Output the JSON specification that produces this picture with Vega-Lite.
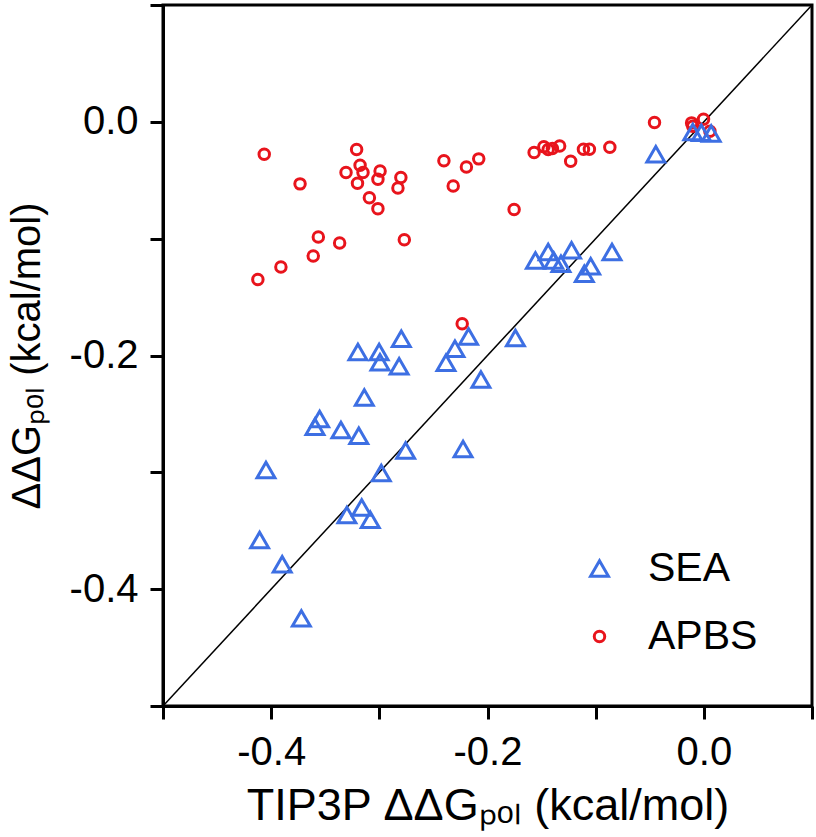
{
  "$schema": "https://vega.github.io/schema/vega-lite/v6.json",
  "autosize": {"type": "none"},
  "padding": {"left": 163, "top": 5, "right": 4, "bottom": 131},
  "width": 649,
  "height": 701,
  "background": "white",
  "config": {
    "font": "Liberation Sans",
    "view": {"stroke": "black", "strokeWidth": 3},
    "axis": {
      "grid": false,
      "domainColor": "black",
      "domainWidth": 3,
      "tickColor": "black",
      "tickWidth": 3,
      "tickSize": 13,
      "labelFont": "Liberation Sans",
      "labelFontSize": 40,
      "labelColor": "black",
      "titleFont": "Liberation Sans",
      "titleFontWeight": "normal",
      "titleColor": "black"
    }
  },
  "datasets": {
    "diag": [
      {"x": -0.5, "y": -0.5},
      {"x": 0.1, "y": 0.1}
    ],
    "pts": [
      {"x": -0.4064, "y": -0.0277, "method": "APBS"},
      {"x": -0.321, "y": -0.0237, "method": "APBS"},
      {"x": -0.3733, "y": -0.0531, "method": "APBS"},
      {"x": -0.3178, "y": -0.0371, "method": "APBS"},
      {"x": -0.3308, "y": -0.0434, "method": "APBS"},
      {"x": -0.3151, "y": -0.0434, "method": "APBS"},
      {"x": -0.3202, "y": -0.0526, "method": "APBS"},
      {"x": -0.2993, "y": -0.042, "method": "APBS"},
      {"x": -0.3013, "y": -0.0491, "method": "APBS"},
      {"x": -0.2801, "y": -0.0477, "method": "APBS"},
      {"x": -0.2828, "y": -0.0566, "method": "APBS"},
      {"x": -0.3092, "y": -0.065, "method": "APBS"},
      {"x": -0.3013, "y": -0.0743, "method": "APBS"},
      {"x": -0.2403, "y": -0.0334, "method": "APBS"},
      {"x": -0.2195, "y": -0.0386, "method": "APBS"},
      {"x": -0.2081, "y": -0.0317, "method": "APBS"},
      {"x": -0.2317, "y": -0.0549, "method": "APBS"},
      {"x": -0.1569, "y": -0.0263, "method": "APBS"},
      {"x": -0.1479, "y": -0.0214, "method": "APBS"},
      {"x": -0.1439, "y": -0.0237, "method": "APBS"},
      {"x": -0.14, "y": -0.0229, "method": "APBS"},
      {"x": -0.1333, "y": -0.0206, "method": "APBS"},
      {"x": -0.1231, "y": -0.0337, "method": "APBS"},
      {"x": -0.1113, "y": -0.0234, "method": "APBS"},
      {"x": -0.1058, "y": -0.0234, "method": "APBS"},
      {"x": -0.0869, "y": -0.0217, "method": "APBS"},
      {"x": -0.0456, "y": -0.0006, "method": "APBS"},
      {"x": -0.0113, "y": -0.0009, "method": "APBS"},
      {"x": -0.0102, "y": -0.0037, "method": "APBS"},
      {"x": -0.0003, "y": 0.0023, "method": "APBS"},
      {"x": 0.0056, "y": -0.008, "method": "APBS"},
      {"x": -0.1754, "y": -0.0751, "method": "APBS"},
      {"x": -0.3564, "y": -0.0986, "method": "APBS"},
      {"x": -0.3367, "y": -0.1037, "method": "APBS"},
      {"x": -0.2769, "y": -0.1009, "method": "APBS"},
      {"x": -0.3611, "y": -0.1149, "method": "APBS"},
      {"x": -0.391, "y": -0.1243, "method": "APBS"},
      {"x": -0.4123, "y": -0.1349, "method": "APBS"},
      {"x": -0.2234, "y": -0.1729, "method": "APBS"},
      {"x": -0.0444, "y": -0.0277, "method": "SEA"},
      {"x": -0.0102, "y": -0.0086, "method": "SEA"},
      {"x": -0.0023, "y": -0.0094, "method": "SEA"},
      {"x": 0.0068, "y": -0.01, "method": "SEA"},
      {"x": -0.1557, "y": -0.1186, "method": "SEA"},
      {"x": -0.1439, "y": -0.1114, "method": "SEA"},
      {"x": -0.1388, "y": -0.1186, "method": "SEA"},
      {"x": -0.1321, "y": -0.1214, "method": "SEA"},
      {"x": -0.1223, "y": -0.11, "method": "SEA"},
      {"x": -0.1105, "y": -0.13, "method": "SEA"},
      {"x": -0.1046, "y": -0.1237, "method": "SEA"},
      {"x": -0.0849, "y": -0.1114, "method": "SEA"},
      {"x": -0.2797, "y": -0.1857, "method": "SEA"},
      {"x": -0.3198, "y": -0.1971, "method": "SEA"},
      {"x": -0.3002, "y": -0.1971, "method": "SEA"},
      {"x": -0.2994, "y": -0.2057, "method": "SEA"},
      {"x": -0.2817, "y": -0.2091, "method": "SEA"},
      {"x": -0.2175, "y": -0.1837, "method": "SEA"},
      {"x": -0.2301, "y": -0.1943, "method": "SEA"},
      {"x": -0.2384, "y": -0.2063, "method": "SEA"},
      {"x": -0.1742, "y": -0.1851, "method": "SEA"},
      {"x": -0.2061, "y": -0.2206, "method": "SEA"},
      {"x": -0.3139, "y": -0.236, "method": "SEA"},
      {"x": -0.3552, "y": -0.2543, "method": "SEA"},
      {"x": -0.3595, "y": -0.2609, "method": "SEA"},
      {"x": -0.3355, "y": -0.2637, "method": "SEA"},
      {"x": -0.319, "y": -0.2686, "method": "SEA"},
      {"x": -0.2757, "y": -0.2814, "method": "SEA"},
      {"x": -0.2226, "y": -0.28, "method": "SEA"},
      {"x": -0.4048, "y": -0.298, "method": "SEA"},
      {"x": -0.2982, "y": -0.3006, "method": "SEA"},
      {"x": -0.3163, "y": -0.33, "method": "SEA"},
      {"x": -0.33, "y": -0.3366, "method": "SEA"},
      {"x": -0.3084, "y": -0.3406, "method": "SEA"},
      {"x": -0.4107, "y": -0.358, "method": "SEA"},
      {"x": -0.3898, "y": -0.3786, "method": "SEA"},
      {"x": -0.3721, "y": -0.425, "method": "SEA"}
    ]
  },
  "layer": [
    {
      "data": {"name": "diag"},
      "mark": {"type": "line", "color": "black", "strokeWidth": 1.5},
      "encoding": {
        "x": {
          "field": "x", "type": "quantitative",
          "scale": {"domain": [-0.5, 0.1], "nice": false, "zero": false},
          "axis": {
            "title": "TIP3P ΔΔGₚₒₗ (kcal/mol)",
            "titleFontSize": 45,
            "values": [-0.5, -0.4, -0.3, -0.2, -0.1, 0.0, 0.1],
            "format": ".1f",
            "labelExpr": "(abs(datum.value + 0.4) < 0.01 || abs(datum.value + 0.2) < 0.01 || abs(datum.value) < 0.01) ? replace(datum.label, '−', '-') : ''",
            "labelPadding": 13,
            "titlePadding": 11
          }
        },
        "y": {
          "field": "y", "type": "quantitative",
          "scale": {"domain": [-0.5, 0.1], "nice": false, "zero": false},
          "axis": {
            "title": "ΔΔGₚₒₗ (kcal/mol)",
            "titleFontSize": 40,
            "values": [-0.5, -0.4, -0.3, -0.2, -0.1, 0.0, 0.1],
            "format": ".1f",
            "labelExpr": "(abs(datum.value + 0.4) < 0.01 || abs(datum.value + 0.2) < 0.01 || abs(datum.value) < 0.01) ? replace(datum.label, '−', '-') : ''",
            "labelPadding": 12,
            "titlePadding": 22
          }
        }
      }
    },
    {
      "data": {"name": "pts"},
      "mark": {"type": "point", "filled": false, "strokeWidth": 3, "opacity": 1},
      "encoding": {
        "x": {"field": "x", "type": "quantitative"},
        "y": {"field": "y", "type": "quantitative"},
        "shape": {
          "field": "method", "type": "nominal",
          "scale": {"domain": ["SEA", "APBS"], "range": ["triangle-up", "circle"]},
          "legend": {
            "title": null,
            "orient": "none",
            "legendX": 416,
            "legendY": 543,
            "labelFontSize": 41,
            "labelFont": "Liberation Sans",
            "labelColor": "black",
            "labelOffset": 28,
            "rowPadding": 26,
            "symbolStrokeWidth": 3
          }
        },
        "color": {
          "field": "method", "type": "nominal",
          "scale": {"domain": ["SEA", "APBS"], "range": ["#3d6fe3", "#e8141c"]}
        },
        "size": {
          "field": "method", "type": "nominal",
          "scale": {"domain": ["SEA", "APBS"], "range": [320, 110]}
        }
      }
    }
  ]
}
